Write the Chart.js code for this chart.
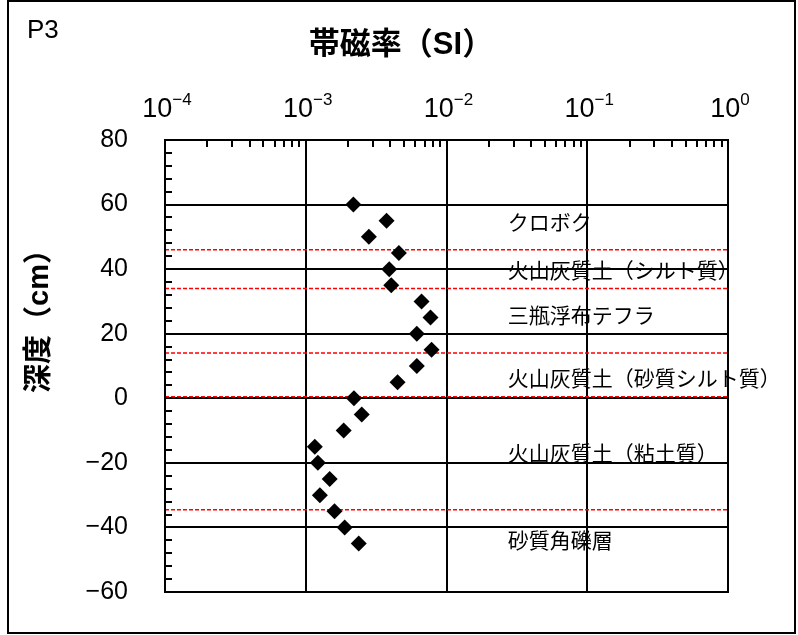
<!DOCTYPE html>
<html>
<head>
<meta charset="utf-8">
<script src="https://cdn.jsdelivr.net/npm/chart.js@4"></script>
<style>
  body { margin: 0; background: #fff; }
  #wrap { width: 798px; height: 635px; }
</style>
</head>
<body>
<div id="wrap"><canvas id="p3-chart"></canvas></div>
<script>
Chart.defaults.font.family = '"Liberation Sans", "Noto Sans CJK JP", sans-serif';
Chart.defaults.color = '#000';

const depths = [60, 55, 50, 45, 40, 35, 30, 25, 20, 15, 10, 5, 0, -5, -10, -15, -20, -25, -30, -35, -40, -45];
const susceptibility = [2.18e-3, 3.75e-3, 2.81e-3, 4.59e-3, 3.92e-3, 4.05e-3, 6.65e-3, 7.7e-3, 6.15e-3, 7.83e-3, 6.15e-3, 4.49e-3,
  2.2e-3, 2.5e-3, 1.86e-3, 1.16e-3, 1.22e-3, 1.48e-3, 1.26e-3, 1.6e-3, 1.89e-3, 2.38e-3];
const xTickExponents = [-4, -3, -2, -1, 0];
const yTicks = [80, 60, 40, 20, 0, -20, -40, -60];
const boundaryDepths = [46, 34, 14, 0.5, -34.5];
const layerNames = ['クロボク', '火山灰質土（シルト質）', '三瓶浮布テフラ', '火山灰質土（砂質シルト質）', '火山灰質土（粘土質）', '砂質角礫層'];
const layerLabelDepths = [54, 39, 25, 5.5, -17.5, -44.5];

const FONT = '"Liberation Sans", "Noto Sans CJK JP", sans-serif';
const labelX = 0.0272; // where the layer names start (SI value)

const decorations = {
  id: 'decorations',
  beforeDraw(chart) {
    const ctx = chart.ctx;
    ctx.save();
    ctx.fillStyle = '#fff';
    ctx.fillRect(0, 0, chart.width, chart.height);
    ctx.restore();
  },
  beforeDatasetsDraw(chart) {
    const {ctx, chartArea: a, scales: {x, y}} = chart;
    ctx.save();
    // minor ticks, pointing into the plot
    ctx.strokeStyle = '#000';
    ctx.lineWidth = 2;
    ctx.beginPath();
    for (let e = -4; e < 0; e++) {
      for (let m = 2; m <= 9; m++) {
        const px = Math.round(x.getPixelForValue(m * Math.pow(10, e)));
        ctx.moveTo(px, a.top);
        ctx.lineTo(px, a.top + 7);
      }
    }
    for (let v = -56; v < 80; v += 4) {
      if (v % 20 === 0) continue;
      const py = Math.round(y.getPixelForValue(v));
      ctx.moveTo(a.left, py);
      ctx.lineTo(a.left + 7, py);
    }
    ctx.stroke();

    // layer boundaries
    ctx.strokeStyle = '#ff0000';
    ctx.lineWidth = 1.5;
    ctx.setLineDash([4, 2]);
    boundaryDepths.forEach(d => {
      const py = y.getPixelForValue(d);
      ctx.beginPath();
      ctx.moveTo(a.left, py);
      ctx.lineTo(a.right, py);
      ctx.stroke();
    });
    ctx.setLineDash([]);

    // layer names
    ctx.fillStyle = '#000';
    ctx.font = '21px ' + FONT;
    ctx.textAlign = 'left';
    ctx.textBaseline = 'middle';
    const lx = x.getPixelForValue(labelX);
    layerNames.forEach((name, i) => {
      ctx.fillText(name, lx, y.getPixelForValue(layerLabelDepths[i]));
    });
    ctx.restore();
  },
  afterDraw(chart) {
    const {ctx, chartArea: a, scales: {x}} = chart;
    ctx.save();
    // plot frame
    ctx.strokeStyle = '#000';
    ctx.lineWidth = 2;
    ctx.strokeRect(a.left, a.top, a.right - a.left, a.bottom - a.top);
    // outer frame
    ctx.strokeRect(8, 1, 787, 632);

    ctx.fillStyle = '#000';
    // x tick labels 10^n
    xTickExponents.forEach(e => {
      const px = x.getPixelForValue(Math.pow(10, e));
      const base = '10';
      const sup = e < 0 ? '\u2212' + Math.abs(e) : String(e);
      ctx.font = '27px ' + FONT;
      const wb = ctx.measureText(base).width;
      ctx.font = '17px ' + FONT;
      const ws = ctx.measureText(sup).width;
      const x0 = px - (wb + ws) / 2 + 2;
      ctx.textAlign = 'left';
      ctx.textBaseline = 'alphabetic';
      ctx.font = '27px ' + FONT;
      ctx.fillText(base, x0, 117);
      ctx.font = '17px ' + FONT;
      ctx.fillText(sup, x0 + wb, 105);
    });

    // titles
    ctx.textBaseline = 'middle';
    ctx.font = '26px ' + FONT;
    ctx.textAlign = 'left';
    ctx.fillText('P3', 27, 31);

    ctx.font = 'bold 31px ' + FONT;
    ctx.textAlign = 'center';
    ctx.fillText('帯磁率（SI）', 401, 45);

    ctx.translate(40, 314);
    ctx.rotate(-Math.PI / 2);
    ctx.font = 'bold 29px ' + FONT;
    ctx.fillText('深度（cm）', 0, 0);
    ctx.restore();
  }
};

const ctxP3 = document.getElementById('p3-chart');
const p3Chart = new Chart(ctxP3, {
  type: 'scatter',
  data: {
    datasets: [{
      data: depths.map((d, i) => ({x: susceptibility[i], y: d})),
      pointStyle: 'rectRot',
      pointRadius: 8,
      pointHoverRadius: 8,
      backgroundColor: '#000',
      borderColor: '#000',
      borderWidth: 0
    }]
  },
  options: {
    responsive: true,
    maintainAspectRatio: false,
    animation: false,
    layout: {
      padding: {left: 0, top: 0, right: 70, bottom: 43}
    },
    plugins: {
      legend: {display: false},
      tooltip: {enabled: false}
    },
    scales: {
      x: {
        type: 'logarithmic',
        position: 'top',
        min: 1e-4,
        max: 1,
        afterBuildTicks: scale => {
          scale.ticks = xTickExponents.map(e => ({value: Math.pow(10, e)}));
        },
        afterFit: scale => { scale.height = 140; },
        ticks: {display: false},
        grid: {color: '#000', lineWidth: 2, drawTicks: false},
        border: {color: '#000', width: 2}
      },
      y: {
        min: -60,
        max: 80,
        afterBuildTicks: scale => {
          scale.ticks = yTicks.map(v => ({value: v}));
        },
        afterFit: scale => {
          scale.width = 165;
          scale.paddingTop = 0;
          scale.paddingBottom = 0;
        },
        ticks: {
          font: {size: 25},
          padding: 37,
          callback: function (value) {
            return value < 0 ? '\u2212' + Math.abs(value) : String(value);
          }
        },
        grid: {color: '#000', lineWidth: 2, drawTicks: false},
        border: {color: '#000', width: 2}
      }
    }
  },
  plugins: [decorations]
});
</script>
</body>
</html>
